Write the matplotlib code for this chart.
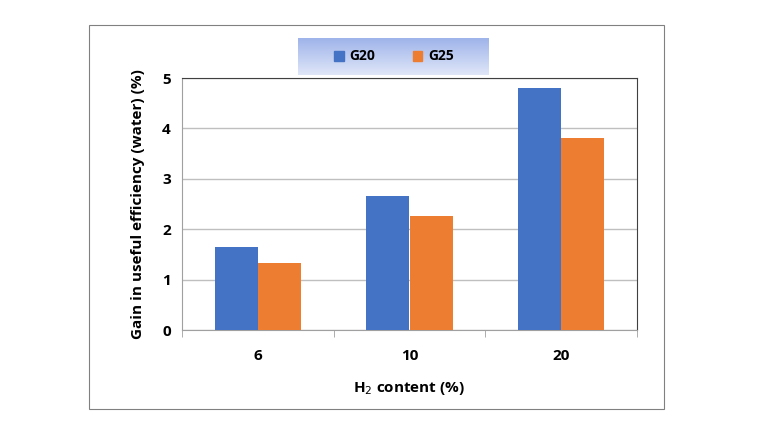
import matplotlib
matplotlib.use("Agg")
import matplotlib.pyplot as plt
import numpy as np
from matplotlib.patches import Rectangle

categories = ["6", "10", "20"]
g20 = [1.64, 2.66, 4.81]
g25 = [1.33, 2.27, 3.80]
yticks = [0, 1, 2, 3, 4, 5]

W, H = 760, 440
fig = plt.figure(figsize=(7.6, 4.4), dpi=100)
fig.patches.append(Rectangle((89/W, 1-409/H), (664-89)/W, (409-25)/H, transform=fig.transFigure,
                             fill=False, edgecolor="#808080", lw=0.8))
# legend gradient box
gax = fig.add_axes([298/W, 1-75/H, (489-298)/W, 37/H])
grad = np.linspace(0, 1, 50).reshape(-1, 1)
from matplotlib.colors import LinearSegmentedColormap
cm = LinearSegmentedColormap.from_list("g", ["#9fb4ea", "#dfe6f8"])
gax.imshow(grad, aspect="auto", cmap=cm, extent=[0, 1, 0, 1])
gax.set_axis_off()
gax.add_patch(Rectangle((0.19, 0.38), 0.05, 0.28, color="#4472C4"))
gax.text(0.27, 0.5, "G20", fontsize=10, fontweight="bold", va="center", family="Open Sans")
gax.add_patch(Rectangle((0.60, 0.38), 0.05, 0.28, color="#ED7D31"))
gax.text(0.68, 0.5, "G25", fontsize=10, fontweight="bold", va="center", family="Open Sans")

ax = fig.add_axes([182/W, 1-330/H, (637-182)/W, (330-78)/H])
x = np.arange(len(categories))
w = 0.285
ax.bar(x - w/2, g20, w, color="#4472C4", zorder=3)
ax.bar(x + w/2, g25, w, color="#ED7D31", zorder=3)
ax.set_xlim(-0.5, 2.5)
ax.set_ylim(0, 5)
ax.set_yticks(yticks)
ax.set_xticks(x)
ax.set_xticklabels(categories)
ax.set_xticks([-0.5, 0.5, 1.5, 2.5], minor=True)
ax.tick_params(axis="x", which="major", length=0, pad=14)
ax.tick_params(axis="x", which="minor", length=5, color="#a0a0a0")
ax.tick_params(axis="y", length=0, pad=8)
for lab in ax.get_xticklabels() + ax.get_yticklabels():
    lab.set_fontweight("bold"); lab.set_fontsize(11); lab.set_family("Open Sans")
ax.grid(axis="y", color="#bfbfbf", lw=1, zorder=0)
for s in ["left", "bottom"]:
    ax.spines[s].set_color("#a0a0a0")
for s in ["top", "right"]:
    ax.spines[s].set_color("#404040")
ax.set_ylabel("Gain in useful efficiency (water) (%)", fontsize=11, fontweight="bold",
              family="Open Sans", labelpad=12)
ax.set_xlabel("H$_2$ content (%)", fontsize=11, fontweight="bold", family="Open Sans", labelpad=12)
fig.savefig("out.png", dpi=100)
